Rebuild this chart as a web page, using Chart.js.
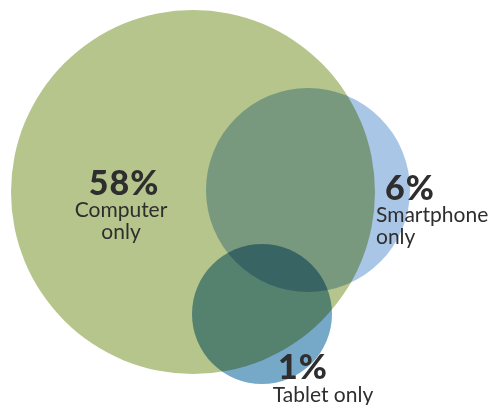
<!DOCTYPE html>
<html>
<head>
<meta charset="utf-8">
<script src="https://cdn.jsdelivr.net/npm/chart.js@4"></script>
<style>
    html, body { margin: 0; padding: 0; background: #fff; }
    #venn { display: block; }
</style>
</head>
<body>
<canvas id="venn" width="489" height="405"></canvas>
<script>
// device groups in the Venn diagram
var groups = ['Computer', 'Smartphone', 'Tablet'];
var centerX = [193, 308, 262];
var centerY = [192, 190, 314];
var radius = [182, 102, 70];
var shares = ['58%', '6%', '1%'];
var names = [['Computer', 'only'], ['Smartphone', 'only'], ['Tablet only']];
var fills = ['#b5c58c', '#a9c6e6', '#76a8c8'];

// where each label sits and how it is aligned
var labelSpots = [
    { x: 124, y: 195, align: 'center', nameX: 121, lines: [217, 239] },
    { x: 385, y: 200, align: 'left', nameX: 376, lines: [222, 244] },
    { x: 303, y: 379, align: 'center', nameX: 323, lines: [402] }
];

const points = groups.map((g, i) => ({ x: centerX[i], y: centerY[i], r: radius[i] }));

const multiplyBlend = {
    id: 'multiplyBlend',
    beforeDatasetsDraw(chart) {
        chart.ctx.save();
        chart.ctx.globalCompositeOperation = 'multiply';
    },
    afterDatasetsDraw(chart) {
        chart.ctx.restore();
    }
};

const vennLabels = {
    id: 'vennLabels',
    afterDraw(chart) {
        const ctx = chart.ctx;
        const xs = chart.scales.x, ys = chart.scales.y;
        ctx.save();
        ctx.fillStyle = '#2e2e2e';
        ctx.textBaseline = 'alphabetic';
        labelSpots.forEach((s, i) => {
            ctx.textAlign = s.align;
            ctx.font = '900 34px Lato';
            ctx.letterSpacing = '1px';
            ctx.fillText(shares[i], xs.getPixelForValue(s.x), ys.getPixelForValue(s.y));
            ctx.letterSpacing = '0px';
            ctx.font = '21px Lato';
            const nx = s.nameX !== undefined ? s.nameX : s.x;
            names[i].forEach((line, j) => {
                ctx.fillText(line, xs.getPixelForValue(nx), ys.getPixelForValue(s.lines[j]));
            });
        });
        ctx.restore();
    }
};

new Chart(document.getElementById('venn'), {
    type: 'bubble',
    data: {
        datasets: [{
            label: 'Devices',
            data: points,
            backgroundColor: fills,
            borderWidth: 0,
            hoverBorderWidth: 0
        }]
    },
    options: {
        responsive: false,
        animation: false,
        clip: false,
        layout: { padding: 0, autoPadding: false },
        scales: {
            x: { type: 'linear', min: 0, max: 489, display: false },
            y: { type: 'linear', min: 0, max: 405, reverse: true, display: false }
        },
        plugins: {
            legend: { display: false },
            tooltip: { enabled: false }
        },
        events: []
    },
    plugins: [multiplyBlend, vennLabels]
});
</script>
</body>
</html>
